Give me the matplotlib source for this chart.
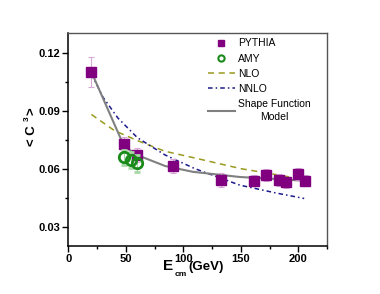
import matplotlib
matplotlib.use("Agg")
import matplotlib.pyplot as plt
from matplotlib.ticker import MultipleLocator
from matplotlib.lines import Line2D

plt.rcParams['font.family'] = ['Liberation Sans', 'DejaVu Sans']

# PYTHIA points
py_x = [20, 48, 60, 91, 133, 161, 172, 183, 189, 200, 206]
py_y = [0.110, 0.0727, 0.0671, 0.0614, 0.0541, 0.0538, 0.0567, 0.0541, 0.0529, 0.0572, 0.0538]
py_err = [0.0078, 0.0035, 0.0035, 0.0035, 0.0035, 0.0030, 0.0030, 0.0030, 0.0030, 0.0030, 0.0030]

# AMY points
amy_x = [48, 54, 60]
amy_y = [0.0659, 0.0645, 0.0628]
amy_err = [0.0040, 0.0040, 0.0045]

# NLO curve
nlo_x = [20, 40, 60, 84, 110, 150, 180, 204]
nlo_y = [0.088, 0.0797, 0.0745, 0.0690, 0.0655, 0.0600, 0.0570, 0.0545]

# NNLO curve
nnlo_x = [20, 30, 43, 60, 84, 110, 149, 180, 205]
nnlo_y = [0.109, 0.097, 0.0862, 0.0760, 0.0671, 0.0600, 0.0515, 0.0475, 0.0446]

# Shape function model
sf_x = [20, 47, 51, 60, 84, 108, 149, 180, 206]
sf_y = [0.110, 0.0735, 0.0706, 0.0670, 0.0614, 0.0584, 0.0557, 0.0547, 0.0537]

c_py = '#800080'
c_amy = '#1a8a1a'
c_nlo = '#9a9a20'
c_nnlo = '#1a1a8c'
c_sf = '#808080'
ls_nlo = (0, (4, 3))
ls_nnlo = (0, (3, 2, 1, 2))

fig = plt.figure(figsize=(3.8, 2.94), dpi=100)
ax = fig.add_axes([0.18, 0.163, 0.681, 0.724])

ax.plot(nlo_x, nlo_y, color=c_nlo, lw=1.1, ls=ls_nlo, zorder=2)
ax.plot(nnlo_x, nnlo_y, color=c_nnlo, lw=1.1, ls=ls_nnlo, zorder=2)
ax.plot(sf_x, sf_y, color=c_sf, lw=1.5, zorder=3)

ax.errorbar(py_x, py_y, yerr=py_err, fmt='s', color=c_py, ms=7.5,
            ecolor='#d8a8d8', elinewidth=0.8, capsize=2, capthick=0.8, zorder=4)
ax.errorbar(amy_x, amy_y, yerr=amy_err, fmt='o', mfc='none', mec=c_amy, mew=2,
            ms=7.5, ecolor='#a8d8a8', elinewidth=0.8, capsize=2, capthick=0.8, zorder=5)

ax.set_xlim(0, 225)
ax.set_ylim(0.02, 0.13)
ax.xaxis.set_major_locator(MultipleLocator(50))
ax.xaxis.set_minor_locator(MultipleLocator(25))
ax.set_yticks([0.03, 0.06, 0.09, 0.12])
ax.set_yticklabels(['0.03', '0.06', '0.09', '0.12'])
ax.yaxis.set_minor_locator(MultipleLocator(0.015))
ax.tick_params(which='major', direction='out', length=4, width=1, labelsize=8, pad=2)
ax.tick_params(which='minor', direction='out', length=2.5, width=1)
for lab in ax.get_xticklabels() + ax.get_yticklabels():
    lab.set_fontweight('bold')
for s in ['top', 'right']:
    ax.spines[s].set_color('#555555')
    ax.spines[s].set_linewidth(1)
for s in ['left', 'bottom']:
    ax.spines[s].set_linewidth(1.1)

handles = [
    Line2D([], [], ls='none', marker='s', color=c_py, ms=4.5),
    Line2D([], [], ls='none', marker='o', mfc='none', mec=c_amy, mew=1.5, ms=4.5),
    Line2D([], [], color=c_nlo, lw=1.1, ls=ls_nlo),
    Line2D([], [], color=c_nnlo, lw=1.1, ls=ls_nnlo),
    Line2D([], [], color=c_sf, lw=1.5),
]
labels = ['PYTHIA', 'AMY', 'NLO', 'NNLO', 'Shape Function\nModel']
leg = ax.legend(handles, labels, loc='upper left', bbox_to_anchor=(0.51, 1.01),
                frameon=False, fontsize=7.5, handlelength=2.6, handletextpad=0.3,
                labelspacing=0.5, borderaxespad=0.3)
for t in leg.get_texts():
    t.set_multialignment('center')
    t.set_linespacing(1.35)

# x label pieces
fig.text(168 / 380, 1 - 266 / 294, 'E', fontsize=11, fontweight='bold', ha='center', va='center')
fig.text(181 / 380, 1 - 274 / 294, 'cm', fontsize=6, fontweight='bold', ha='center', va='center')
fig.text(188 / 380, 1 - 267 / 294, '(GeV)', fontsize=9.5, fontweight='bold', ha='left', va='center')

# y label pieces
fig.text(32 / 380, 1 - 136 / 294, '< C', fontsize=9.5, fontweight='bold',
         rotation=90, ha='center', va='center')
fig.text(27 / 380, 1 - 119 / 294, '3', fontsize=6, fontweight='bold',
         rotation=90, ha='center', va='center')
fig.text(32 / 380, 1 - 111 / 294, '>', fontsize=9.5, fontweight='bold',
         rotation=90, ha='center', va='center')

fig.savefig('out.png', dpi=100)
